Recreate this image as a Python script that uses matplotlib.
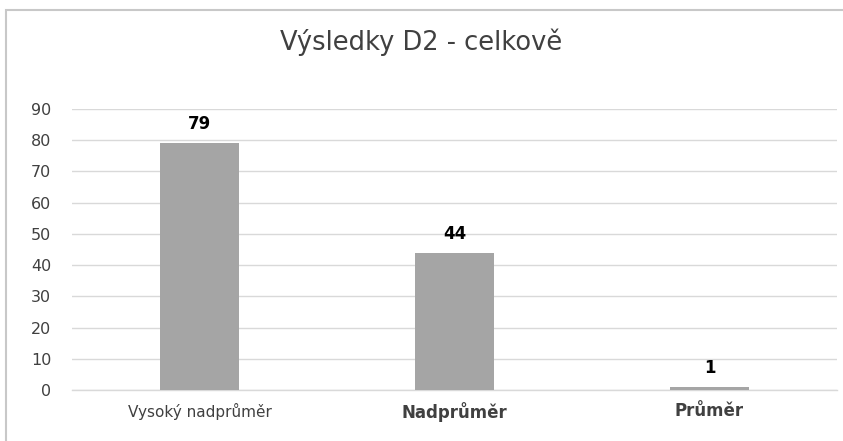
import matplotlib
matplotlib.use('Agg')
import matplotlib.pyplot as plt
from matplotlib.patches import Rectangle

# chart data
categories = ['Vysoký nadprůměr', 'Nadprůměr', 'Průměr']
values = [79, 44, 1]
y_ticks = [0, 10, 20, 30, 40, 50, 60, 70, 80, 90]

fig = plt.figure(figsize=(8.43, 4.41), dpi=100)
fig.patch.set_facecolor('white')

# outer chart frame (left and top edges visible)
fig.patches.append(Rectangle((6 / 843, -0.05), 1.1, 1 - 10 / 441 + 0.05,
                             transform=fig.transFigure, fill=False,
                             edgecolor='#c8c8c8', linewidth=1.5))

ax = fig.add_axes([72 / 843, 51 / 441, 765 / 843, 281 / 441])
x = range(len(categories))
ax.bar(x, values, width=0.31, color='#a5a5a5', zorder=3)

ax.set_ylim(0, 90)
ax.set_xlim(-0.5, len(categories) - 0.5)
ax.set_yticks(y_ticks)
ax.set_yticklabels([str(t) for t in y_ticks], fontsize=11.5, color='#404040',
                   family='DejaVu Sans')
ax.tick_params(axis='y', length=0, pad=15)
ax.tick_params(axis='x', length=0, pad=9)
ax.set_xticks(list(x))
ax.set_xticklabels(categories)
labels = ax.get_xticklabels()
labels[0].set_fontfamily('DejaVu Sans')
labels[0].set_fontsize(11)
labels[0].set_color('#404040')
for lab in labels[1:]:
    lab.set_fontfamily('DejaVu Sans')
    lab.set_fontweight('bold')
    lab.set_fontsize(12)
    lab.set_color('#404040')

ax.grid(axis='y', color='#d9d9d9', linewidth=1.0, zorder=0)
for side in ['top', 'right', 'left']:
    ax.spines[side].set_visible(False)
ax.spines['bottom'].set_color('#d9d9d9')
ax.spines['bottom'].set_linewidth(1.0)

for i, v in enumerate(values):
    ax.text(i, v + 3.2, str(v), ha='center', va='bottom', fontsize=12,
            fontweight='bold', family='DejaVu Sans', color='black')

fig.text(0.5, 1 - 42 / 441, 'Výsledky D2 - celkově', ha='center', va='center',
         fontsize=18.5, family='DejaVu Sans', color='#404040')

fig.savefig('out.png', dpi=100)
